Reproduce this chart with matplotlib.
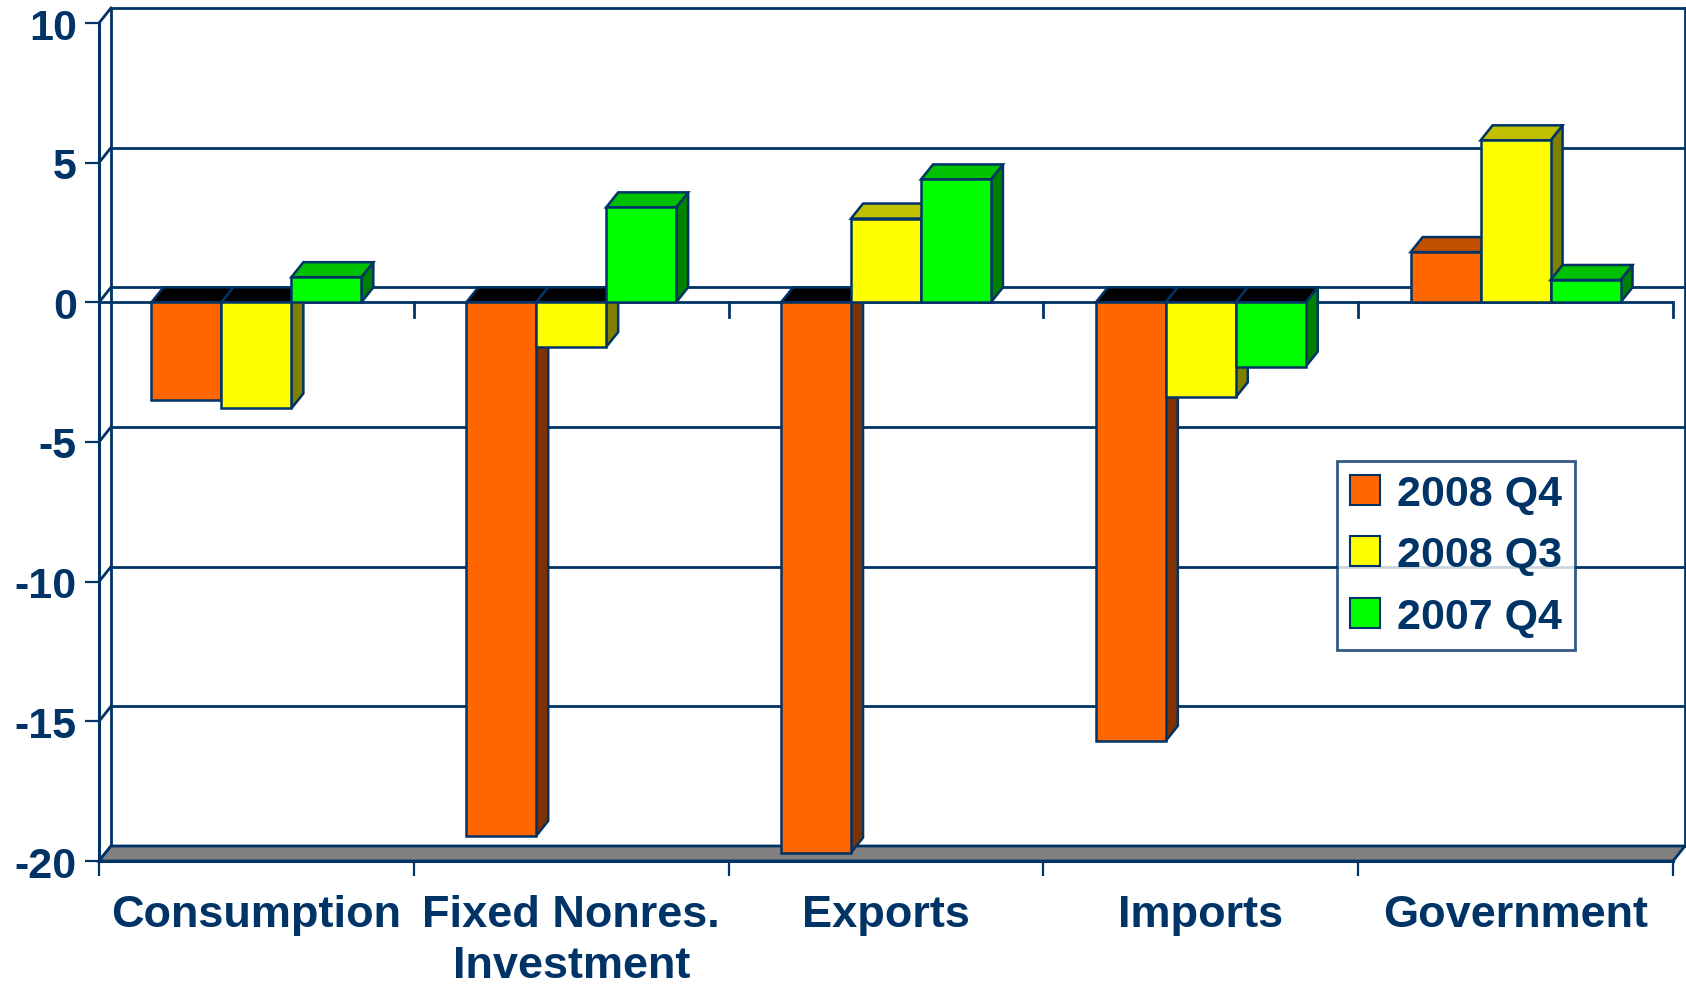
import matplotlib
matplotlib.use("Agg")
import matplotlib.pyplot as plt
from matplotlib.patches import Polygon, Patch

# data: real growth by component (annualized %)
categories = ["Consumption", "Fixed Nonres.\nInvestment", "Exports", "Imports", "Government"]
series_names = ["2008 Q4", "2008 Q3", "2007 Q4"]
q4_2008 = [-3.5, -19.1, -19.7, -15.7, 1.8]
q3_2008 = [-3.8, -1.6, 3.0, -3.4, 5.8]
q4_2007 = [0.9, 3.4, 4.4, -2.3, 0.8]
yticks = [-20, -15, -10, -5, 0, 5, 10]

face = ["#FF6600", "#FFFF00", "#00FF00"]
top_face = ["#C05000", "#C0C000", "#00C000"]
side_face = ["#803300", "#808000", "#008000"]
navy = "#003366"

plt.rcParams['font.family'] = ['Liberation Sans', 'DejaVu Sans']
plt.rcParams['font.weight'] = 'bold'

W, H = 1686, 987
fig = plt.figure(figsize=(W / 100, H / 100), dpi=100)
left, right, top, bottom = 99, 1673, 24, 862
ax = fig.add_axes([left / W, (H - bottom) / H, (right - left) / W, (bottom - top) / H])
ncat = len(categories)
ymin, ymax = -20, 10
ax.set_xlim(0, ncat)
ax.set_ylim(ymin, ymax)

# depth of the fake 3d box, in pixels -> data units
dx = 12 * ncat / (right - left)
dy = 15 * (ymax - ymin) / (bottom - top)
lw = 2

# back wall + gridlines
for v in yticks:
    ax.plot([dx, ncat + dx], [v + dy, v + dy], color=navy, lw=lw, clip_on=False, zorder=1)
    ax.plot([0, dx], [v, v + dy], color=navy, lw=lw, clip_on=False, zorder=1)
ax.plot([dx, dx], [ymin + dy, ymax + dy], color=navy, lw=lw, clip_on=False, zorder=1)
ax.plot([ncat + dx, ncat + dx], [ymin + dy, ymax + dy], color=navy, lw=lw, clip_on=False, zorder=1)

# floor
ax.add_patch(Polygon([(0, ymin), (ncat, ymin), (ncat + dx, ymin + dy), (dx, ymin + dy)],
                     closed=True, facecolor="#808080", edgecolor=navy, lw=lw,
                     clip_on=False, zorder=1.5))

# category axis at zero
ax.plot([0, ncat], [0, 0], color=navy, lw=lw, zorder=1.6)
tick_len = 15 * (ymax - ymin) / (bottom - top)
for i in range(1, ncat + 1):
    ax.plot([i, i], [0, -tick_len], color=navy, lw=lw, clip_on=False, zorder=1.6)

# bars
gap = 1.5
bw = 1 / (3 + gap)
all_series = [q4_2008, q3_2008, q4_2007]
z = 3
for c in range(ncat):
    for s, vals in enumerate(all_series):
        v = vals[c]
        x0 = c + gap * bw / 2 + s * bw
        x1 = x0 + bw
        ax.bar(x0, v, width=bw, align='edge', color=face[s], edgecolor=navy,
               linewidth=1.8, zorder=z + 0.2)
        if v >= 0:
            tp = [(x0, v), (x1, v), (x1 + dx, v + dy), (x0 + dx, v + dy)]
            tc = top_face[s]
        else:
            tp = [(x0, 0), (x1, 0), (x1 + dx, dy), (x0 + dx, dy)]
            tc = "black"
        sp = [(x1, 0), (x1, v), (x1 + dx, v + dy), (x1 + dx, dy)]
        ax.add_patch(Polygon(tp, closed=True, facecolor=tc, edgecolor=navy, lw=1.8,
                             clip_on=False, zorder=z + 0.1))
        ax.add_patch(Polygon(sp, closed=True, facecolor=side_face[s], edgecolor=navy, lw=1.8,
                             clip_on=False, zorder=z))
        z += 1

# axes styling
for sp_name in ["top", "right"]:
    ax.spines[sp_name].set_visible(False)
for sp_name in ["left", "bottom"]:
    ax.spines[sp_name].set_color(navy)
    ax.spines[sp_name].set_linewidth(2.2)
    ax.spines[sp_name].set_zorder(2)
ax.set_facecolor("none")

ax.set_yticks(yticks)
ax.set_yticklabels([str(t) for t in yticks])
ax.tick_params(axis='y', direction='out', length=10, width=1.6, color=navy,
               labelcolor=navy, labelsize=31, pad=6)
ax.set_xticks(range(ncat + 1))
ax.set_xticklabels([])
ax.set_xticks([i + 0.5 for i in range(ncat)], minor=True)
ax.set_xticklabels(categories, minor=True, fontsize=32.5, color=navy, linespacing=1.3)
ax.tick_params(axis='x', which='major', direction='out', length=11, width=1.6, color=navy)
ax.tick_params(axis='x', which='minor', length=0, pad=24)

handles = [Patch(facecolor=face[s], edgecolor=navy, linewidth=1.5) for s in range(3)]
leg = fig.legend(handles, series_names, loc='upper left',
                 bbox_to_anchor=(1337 / W, 1 - 462 / H), fontsize=31,
                 frameon=True, fancybox=False, borderpad=0.3, labelspacing=0.5,
                 handlelength=0.7, handleheight=0.7, handletextpad=0.4, borderaxespad=0)
leg.get_frame().set_edgecolor(navy)
leg.get_frame().set_linewidth(2)
for t in leg.get_texts():
    t.set_color(navy)

fig.savefig("out.png", dpi=100)
